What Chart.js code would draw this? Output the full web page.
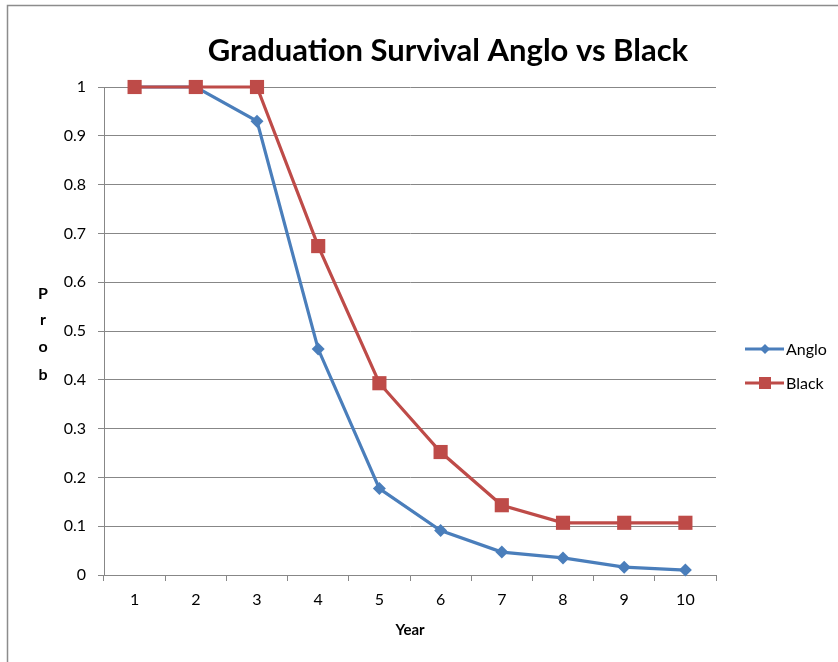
<!DOCTYPE html>
<html>
<head>
<meta charset="utf-8">
<script src="https://cdn.jsdelivr.net/npm/chart.js@4"></script>
<style>
  html, body { margin: 0; padding: 0; background: #ffffff; }
  #wrap { width: 838px; height: 662px; position: relative; }
</style>
</head>
<body>
<div id="wrap"><canvas id="chart" width="838" height="662"></canvas></div>
<script>
const years = ['1', '2', '3', '4', '5', '6', '7', '8', '9', '10'];
const anglo = [1, 1, 0.93, 0.463, 0.177, 0.091, 0.047, 0.035, 0.016, 0.010];
const black = [1, 1, 1, 0.674, 0.393, 0.252, 0.143, 0.107, 0.107, 0.107];
const yTicks = [0, 0.1, 0.2, 0.3, 0.4, 0.5, 0.6, 0.7, 0.8, 0.9, 1];

const chartTitle = 'Graduation Survival Anglo vs Black';
const xTitle = 'Year';
const yTitleLetters = ['P', 'r', 'o', 'b'];

const BLUE = '#4A7EBB';
const RED = '#BE4B48';
const GRID = '#878787';
const FONT = 'Lato, "Open Sans", sans-serif';

// Frame, heading, axis titles and legend drawn on the canvas
const decorations = {
  id: 'decorations',
  afterDraw(chart) {
    const ctx = chart.ctx;
    const area = chart.chartArea;
    ctx.save();

    // outer frame
    ctx.strokeStyle = '#8c8c8c';
    ctx.lineWidth = 1.5;
    ctx.beginPath();
    ctx.moveTo(7.5, 670);
    ctx.lineTo(7.5, 5.5);
    ctx.lineTo(845, 5.5);
    ctx.stroke();

    // heading
    ctx.fillStyle = '#000';
    ctx.textAlign = 'center';
    ctx.textBaseline = 'middle';
    ctx.font = 'bold 31px ' + FONT;
    ctx.fillText(chartTitle, 448, 51);

    // x axis title
    ctx.font = 'bold 15px ' + FONT;
    ctx.fillText(xTitle, (area.left + area.right) / 2, 630);

    // y axis title, letters stacked
    ctx.font = 'bold 16px ' + FONT;
    const ys = [294, 320, 347, 375];
    yTitleLetters.forEach((ch, i) => ctx.fillText(ch, 43, ys[i]));

    // legend
    const items = [
      { label: chart.data.datasets[0].label, color: BLUE, style: 'diamond', y: 349 },
      { label: chart.data.datasets[1].label, color: RED, style: 'square', y: 383 }
    ];
    ctx.font = '16px ' + FONT;
    ctx.textAlign = 'left';
    items.forEach(it => {
      ctx.strokeStyle = it.color;
      ctx.lineWidth = 3;
      ctx.beginPath();
      ctx.moveTo(745, it.y);
      ctx.lineTo(784, it.y);
      ctx.stroke();
      ctx.fillStyle = it.color;
      ctx.beginPath();
      if (it.style === 'diamond') {
        ctx.moveTo(765, it.y - 5);
        ctx.lineTo(770, it.y);
        ctx.lineTo(765, it.y + 5);
        ctx.lineTo(760, it.y);
        ctx.closePath();
      } else {
        ctx.rect(759, it.y - 6, 12, 12);
      }
      ctx.fill();
      ctx.fillStyle = '#000';
      ctx.fillText(it.label, 786, it.y + 1);
    });

    ctx.restore();
  }
};

new Chart(document.getElementById('chart'), {
  type: 'line',
  data: {
    labels: years,
    datasets: [
      {
        label: 'Anglo',
        data: anglo,
        borderColor: BLUE,
        backgroundColor: BLUE,
        borderWidth: 3.2,
        pointStyle: 'rectRot',
        pointRadius: 6.5,
        pointBorderWidth: 0,
        tension: 0,
        clip: false,
        order: 1
      },
      {
        label: 'Black',
        data: black,
        borderColor: RED,
        backgroundColor: RED,
        borderWidth: 3.2,
        pointStyle: 'rect',
        pointRadius: 10,
        pointBorderWidth: 0,
        tension: 0,
        clip: false,
        order: 0
      }
    ]
  },
  options: {
    responsive: false,
    animation: false,
    events: [],
    layout: { padding: { top: 87, right: 122, bottom: 0, left: 0 } },
    plugins: {
      legend: { display: false },
      title: { display: false },
      tooltip: { enabled: false }
    },
    scales: {
      x: {
        offset: true,
        grid: {
          offset: true,
          drawOnChartArea: false,
          color: GRID,
          tickLength: 6,
          lineWidth: 1
        },
        border: { color: GRID, width: 1 },
        ticks: {
          color: '#000',
          font: { family: FONT, size: 16 },
          padding: 9,
          maxRotation: 0
        },
        afterFit(scale) { scale.height = 87; }
      },
      y: {
        min: 0,
        max: 1,
        afterBuildTicks(scale) {
          scale.ticks = yTicks.map(v => ({ value: v }));
        },
        grid: { color: GRID, tickLength: 6, lineWidth: 1 },
        border: { color: GRID, width: 1 },
        ticks: {
          color: '#000',
          font: { family: FONT, size: 16 },
          padding: 12,
          callback: v => String(Math.round(v * 10) / 10)
        },
        afterFit(scale) { scale.width = 104; }
      }
    }
  },
  plugins: [decorations]
});
</script>
</body>
</html>
